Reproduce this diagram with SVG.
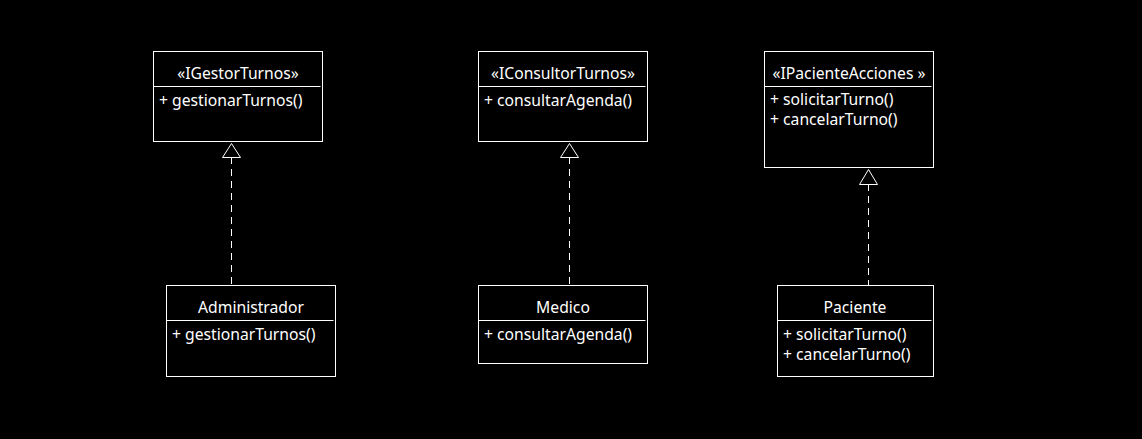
<svg xmlns="http://www.w3.org/2000/svg" width="1142" height="439" viewBox="0 0 1142 439">
<style>
.box{fill:#000;stroke:#fff;stroke-width:1}
.div{stroke:#fff;stroke-width:1}
.t{font-family:"Noto Sans","DejaVu Sans",sans-serif;font-size:15.7px;fill:#fff}
.c{text-anchor:middle}
.dash{stroke:#fff;stroke-width:1;stroke-dasharray:7 5;fill:none}
.tri{fill:#000;stroke:#fff;stroke-width:1}
</style>
<rect width="1142" height="439" fill="#000"/>
<g id="connectors">
<line class="dash" x1="231.5" y1="157" x2="231.5" y2="285"/>
<polygon class="tri" points="231.5,143.5 222.5,157.5 240.5,157.5"/>
<line class="dash" x1="569.5" y1="157" x2="569.5" y2="285"/>
<polygon class="tri" points="569.5,143.5 560.5,157.5 578.5,157.5"/>
<line class="dash" x1="868.5" y1="184" x2="868.5" y2="285"/>
<polygon class="tri" points="868.5,169.5 859.5,184.5 877.5,184.5"/>
</g>
<g id="IGestorTurnos">
<rect class="box" x="153.5" y="51.5" width="169" height="90"/>
<line class="div" x1="153.5" y1="86.5" x2="320.5" y2="86.5"/>
<text class="t c" x="238" y="79">«IGestorTurnos»</text>
<text class="t" x="159" y="106">+ gestionarTurnos()</text>
</g>
<g id="IConsultorTurnos">
<rect class="box" x="478.5" y="51.5" width="169" height="90"/>
<line class="div" x1="478.5" y1="86.5" x2="645.5" y2="86.5"/>
<text class="t c" x="563" y="79">«IConsultorTurnos»</text>
<text class="t" x="484" y="106">+ consultarAgenda()</text>
</g>
<g id="IPacienteAcciones">
<rect class="box" x="764.5" y="51.5" width="169" height="116"/>
<line class="div" x1="764.5" y1="86.5" x2="931.5" y2="86.5"/>
<text class="t c" x="849" y="79">«IPacienteAcciones »</text>
<text class="t"><tspan x="770" y="105">+ solicitarTurno()</tspan><tspan x="770" y="124.5">+ cancelarTurno()</tspan></text>
</g>
<g id="Administrador">
<rect class="box" x="166.5" y="285.5" width="169" height="91"/>
<line class="div" x1="166.5" y1="320.5" x2="333.5" y2="320.5"/>
<text class="t c" x="251" y="313">Administrador</text>
<text class="t" x="172" y="340">+ gestionarTurnos()</text>
</g>
<g id="Medico">
<rect class="box" x="478.5" y="285.5" width="169" height="78"/>
<line class="div" x1="478.5" y1="320.5" x2="645.5" y2="320.5"/>
<text class="t c" x="563" y="313">Medico</text>
<text class="t" x="484" y="340">+ consultarAgenda()</text>
</g>
<g id="Paciente">
<rect class="box" x="777.5" y="285.5" width="156" height="91"/>
<line class="div" x1="777.5" y1="320.5" x2="931.5" y2="320.5"/>
<text class="t c" x="855" y="313">Paciente</text>
<text class="t"><tspan x="783" y="340">+ solicitarTurno()</tspan><tspan x="783" y="359.5">+ cancelarTurno()</tspan></text>
</g>
</svg>
